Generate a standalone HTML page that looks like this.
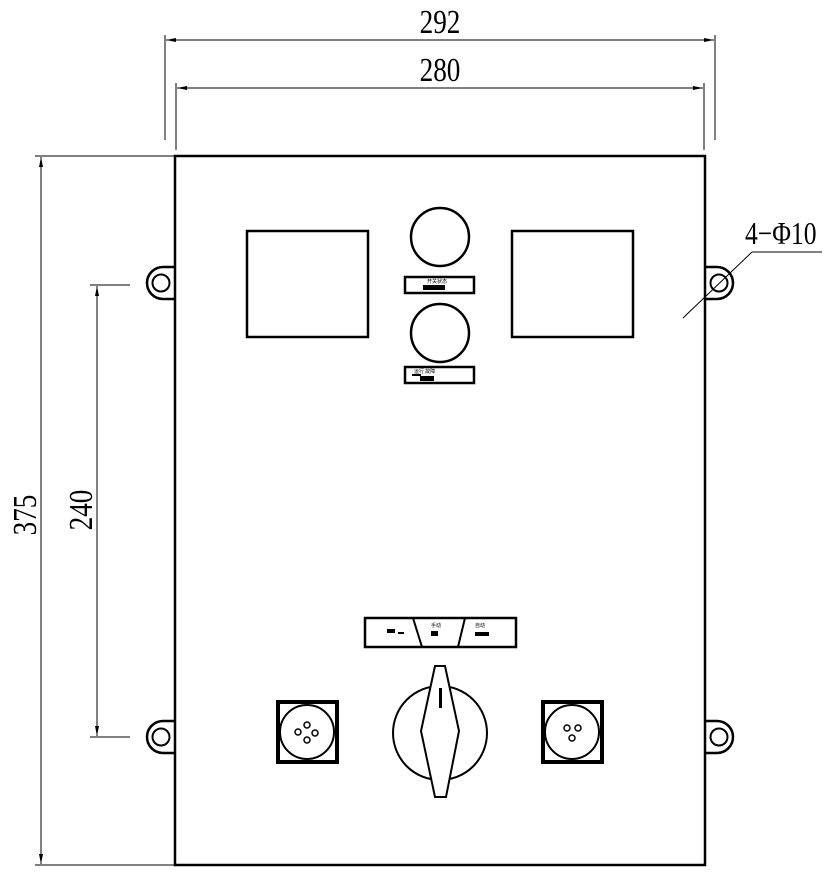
<!DOCTYPE html>
<html><head><style>body{margin:0;background:#fff}svg{display:block}</style></head><body>
<svg width="827" height="873" viewBox="0 0 827 873" xmlns="http://www.w3.org/2000/svg" font-family="Liberation Serif, serif">
<defs><marker id="a" viewBox="0 0 10 4" refX="10" refY="2" markerWidth="10" markerHeight="4" orient="auto-start-reverse" markerUnits="userSpaceOnUse"><path d="M0,0L10,2L0,4z" fill="#000"/></marker></defs>
<g stroke="#000" fill="none" stroke-width="1">
<line x1="165" y1="35" x2="165" y2="140"/><line x1="715" y1="35" x2="715" y2="140"/>
<line x1="166" y1="40" x2="714" y2="40" marker-start="url(#a)" marker-end="url(#a)"/>
<line x1="176" y1="83" x2="176" y2="150"/><line x1="704" y1="83" x2="704" y2="150"/>
<line x1="177" y1="88" x2="703" y2="88" marker-start="url(#a)" marker-end="url(#a)"/>
<line x1="35" y1="156" x2="175" y2="156"/><line x1="35" y1="865" x2="175" y2="865"/>
<line x1="41" y1="157" x2="41" y2="864" marker-start="url(#a)" marker-end="url(#a)"/>
<line x1="90" y1="285" x2="130" y2="285"/><line x1="90" y1="737" x2="130" y2="737"/>
<line x1="97" y1="286" x2="97" y2="736" marker-start="url(#a)" marker-end="url(#a)"/>
<line x1="683" y1="318" x2="752" y2="252"/><line x1="752" y1="252" x2="822" y2="252"/>
</g>
<g fill="#000" font-size="34">
<text transform="translate(440,33) scale(0.8,1)" text-anchor="middle">292</text>
<text transform="translate(440,81) scale(0.8,1)" text-anchor="middle">280</text>
<text transform="translate(36,515) rotate(-90) scale(0.8,1)" text-anchor="middle">375</text>
<text transform="translate(92,510) rotate(-90) scale(0.8,1)" text-anchor="middle">240</text>
<text transform="translate(745,244) scale(0.8,1)" font-size="32">4−Φ10</text>
</g>
<g stroke="#000" fill="none" stroke-width="2.5">
<rect x="175" y="156" width="530" height="709"/>
<path d="M175,267 H163 A16,16 0 0 0 163,299 H175"/>
<path d="M175,721 H163 A16,16 0 0 0 163,753 H175"/>
<path d="M705,267 H717 A16,16 0 0 1 717,299 H705"/>
<path d="M705,721 H717 A16,16 0 0 1 717,753 H705"/>
<circle cx="161" cy="283" r="8.5" stroke-width="2"/><circle cx="161" cy="737" r="8.5" stroke-width="2"/>
<circle cx="719" cy="283" r="8.5" stroke-width="2"/><circle cx="719" cy="737" r="8.5" stroke-width="2"/>
<rect x="247" y="231" width="121" height="106"/>
<rect x="512" y="231" width="121" height="106"/>
<circle cx="440" cy="237" r="29"/><circle cx="440" cy="333" r="29"/>
<rect x="405" y="277" width="69" height="16"/>
<rect x="405" y="367" width="69" height="16"/>
<rect x="365" y="618" width="151" height="29"/>
<path d="M413,618 L422,647 M465,618 L458,647" stroke-width="2"/>
<rect x="278" y="702" width="59" height="60" stroke-width="4"/>
<rect x="543" y="702" width="59" height="60" stroke-width="4"/>
<circle cx="307" cy="732" r="27" stroke-width="2"/>
<circle cx="572" cy="732" r="27" stroke-width="2"/>
<circle cx="440" cy="733" r="47" stroke-width="2"/>
<path d="M435,666 L445,666 L459,731 L446,797 L435,797 L421,731 Z" fill="#fff" stroke-width="2"/>
</g>
<rect x="439" y="688" width="3" height="20" fill="#000"/>
<g fill="#000">
<rect x="423" y="285" width="22" height="5"/><rect x="420" y="376" width="14" height="5"/><rect x="412" y="374" width="9" height="2"/>
<rect x="387" y="629" width="8" height="4"/><rect x="398" y="632" width="6" height="2"/>
<rect x="431" y="631" width="7" height="5"/><rect x="475" y="632" width="14" height="4"/>
</g>
<g font-size="5" fill="#000" font-family="Noto Sans CJK SC, sans-serif">
<text x="427" y="283">开关状态</text><text x="414" y="373">运行 故障</text>
<text x="431" y="627">手动</text><text x="475" y="627">自动</text>
</g>
<g stroke="#000" fill="none" stroke-width="1.5">
<circle cx="307" cy="725" r="3"/><circle cx="298" cy="732" r="3"/><circle cx="315" cy="733" r="3"/><circle cx="307" cy="740" r="3"/>
<circle cx="567" cy="728" r="3"/><circle cx="578" cy="728" r="3"/><circle cx="572" cy="738" r="3"/>
</g>
</svg>
</body></html>
